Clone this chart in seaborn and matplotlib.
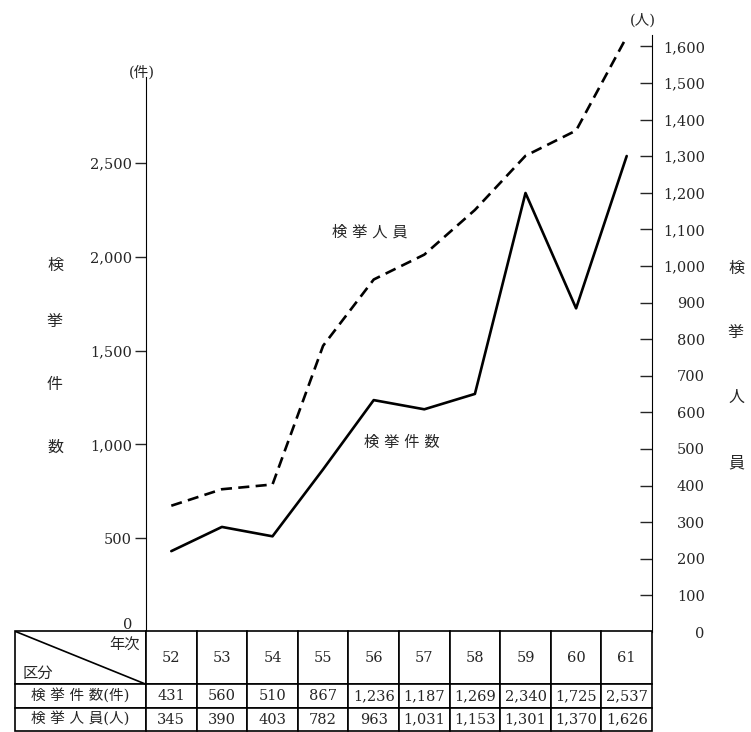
import matplotlib
matplotlib.use("Agg")
import matplotlib.pyplot as plt
import seaborn as sns
import pandas as pd
import numpy as np

# data
years = ["52", "53", "54", "55", "56", "57", "58", "59", "60", "61"]
cases = [431, 560, 510, 867, 1236, 1187, 1269, 2340, 1725, 2537]
persons = [345, 390, 403, 782, 963, 1031, 1153, 1301, 1370, 1626]
row_labels = ["検 挙 件 数(件)", "検 挙 人 員(人)"]
left_ticks = [0, 500, 1000, 1500, 2000, 2500]
right_ticks = list(range(0, 1700, 100))

W, H = 751, 732

sns.set_style("white")
plt.rcParams['font.family'] = ['DejaVu Serif', 'Noto Sans CJK JP']

fig = plt.figure(figsize=(W / 100, H / 100), dpi=100)
ax = fig.add_axes([146 / W, 100 / H, 506 / W, 597 / H])
ax2 = ax.twinx()

df = pd.DataFrame({"pos": np.arange(len(years)), "cases": cases, "persons": persons})
sns.lineplot(data=df, x="pos", y="cases", ax=ax, color="black", lw=1.9)
sns.lineplot(data=df, x="pos", y="persons", ax=ax2, color="black", lw=1.9)
ax2.lines[0].set_dashes([4.2, 2.4])

ax.set_xlim(-0.5, len(years) - 0.5)
ax.set_xticks([])
ax.set_xlabel("")
ax.set_ylabel("")
ax2.set_ylabel("")

# left axis (件)
ax.set_ylim(0, 3182)
ax.set_yticks(left_ticks)
ax.set_yticklabels([f"{v:,}" for v in left_ticks])
ax.tick_params(axis="y", direction="out", length=8, width=1, labelsize=10.5, pad=2, left=True)
ax.get_yticklabels()[0].set_verticalalignment("bottom")
for s in ["top", "right", "bottom"]:
    ax.spines[s].set_visible(False)
ax.spines["left"].set_bounds(0, 2960)
ax.spines["left"].set_color("black")

# right axis (人)
ax2.set_ylim(0, 1631)
ax2.set_yticks(right_ticks)
ax2.set_yticklabels([f"{v:,}" for v in right_ticks])
ax2.tick_params(axis="y", direction="in", length=9, width=1, labelsize=10.5, pad=38, right=True)
for lbl in ax2.get_yticklabels():
    lbl.set_horizontalalignment("right")
for s in ["top", "left", "bottom"]:
    ax2.spines[s].set_visible(False)
ax2.spines["right"].set_color("black")


def ftext(x, y, s, **kw):
    fig.text(x / W, 1 - y / H, s, **kw)


ftext(142, 72, "(件)", ha="center", va="center", fontsize=10.5)
ftext(643, 20, "(人)", ha="center", va="center", fontsize=10.5)
for ch, y in zip("検挙件数", [265, 322, 385, 447]):
    ftext(55, y, ch, ha="center", va="center", fontsize=11.5)
for ch, y in zip("検挙人員", [268, 332, 397, 463]):
    ftext(736, y, ch, ha="center", va="center", fontsize=11.5)
ftext(370, 232, "検 挙 人 員", ha="center", va="center", fontsize=11)
ftext(402, 443, "検 挙 件 数", ha="center", va="center", fontsize=11)

# table under the chart
tax = fig.add_axes([15 / W, 0.001, 637 / W, 100 / H])
tax.set_xlim(0, 1)
tax.set_ylim(0, 1)
tax.axis("off")
cell_text = [[""] + years,
             [row_labels[0]] + [f"{v:,}" for v in cases],
             [row_labels[1]] + [f"{v:,}" for v in persons]]
tbl = tax.table(cellText=cell_text, bbox=[0, 0, 1, 1], cellLoc="center",
                colWidths=[131 / 637] + [50.6 / 637] * len(years))
tbl.auto_set_font_size(False)
for (r, c), cell in tbl.get_celld().items():
    cell.set_height(53 if r == 0 else 23.5)
    cell.set_linewidth(1.2)
    cell.get_text().set_fontsize(10.5)

hdr = 53 / 100
tax.plot([0, 131 / 637], [1, 1 - hdr], color="black", lw=1.2)
tax.text(125 / 637, 0.86, "年次", ha="right", va="center", fontsize=11)
tax.text(0.012, 0.57, "区分", ha="left", va="center", fontsize=11)

fig.savefig("out.png", dpi=100)
